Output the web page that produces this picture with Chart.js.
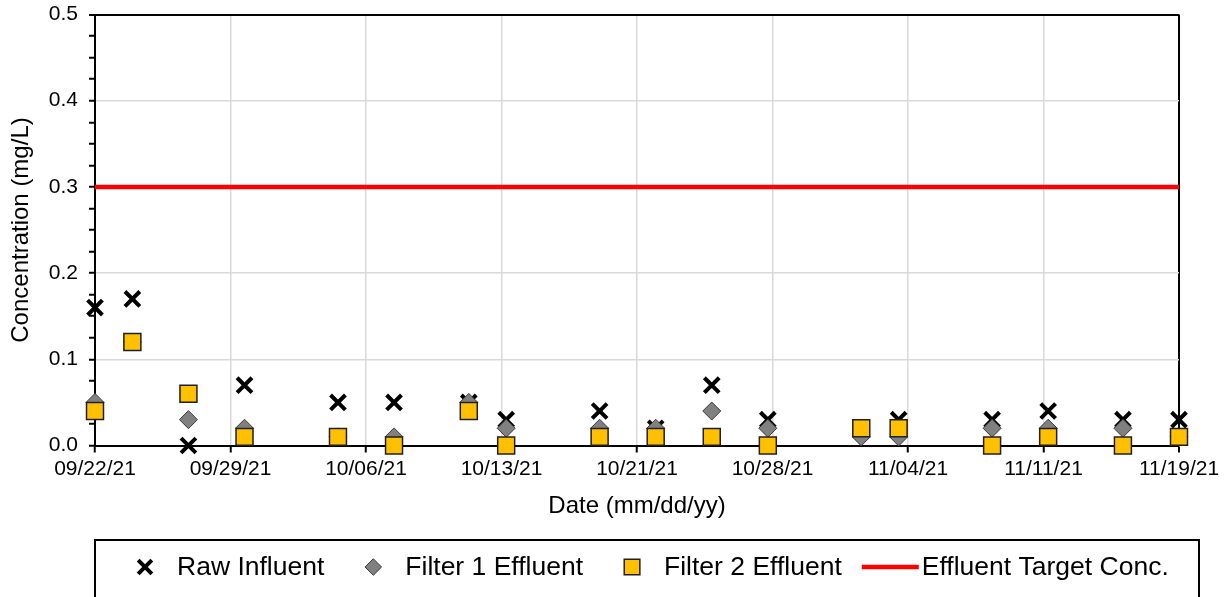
<!DOCTYPE html>
<html>
<head>
<meta charset="utf-8">
<script src="https://cdn.jsdelivr.net/npm/chart.js@4.4.1/dist/chart.umd.min.js"></script>
<style>
  html, body { margin: 0; padding: 0; background: #fff; }
  #wrap { width: 1228px; height: 597px; position: relative; }
</style>
</head>
<body>
<div id="wrap"><canvas id="c" width="1228" height="597"></canvas></div>
<script>
// Sampling dates (mm/dd/yy) and measured concentrations (mg/L)
const sampleDates = ['09/22/21', '09/24/21', '09/27/21', '09/30/21', '10/05/21', '10/08/21',
                     '10/12/21', '10/14/21', '10/19/21', '10/22/21', '10/25/21', '10/28/21',
                     '11/02/21', '11/04/21', '11/09/21', '11/12/21', '11/16/21', '11/19/21'];
const rawInfluent     = [0.16, 0.17, 0.00, 0.07, 0.05, 0.05, 0.05, 0.03, 0.04, 0.02, 0.07, 0.03, null, 0.03, 0.03, 0.04, 0.03, 0.03];
const filter1Effluent = [0.05, 0.12, 0.03, 0.02, 0.01, 0.01, 0.05, 0.02, 0.02, 0.02, 0.04, 0.02, 0.01, 0.01, 0.02, 0.02, 0.02, 0.01];
const filter2Effluent = [0.04, 0.12, 0.06, 0.01, 0.01, 0.00, 0.04, 0.00, 0.01, 0.01, 0.01, 0.00, 0.02, 0.02, 0.00, 0.01, 0.00, 0.01];
const targetConc = 0.3;

const seriesNames = ['Raw Influent', 'Filter 1 Effluent', 'Filter 2 Effluent', 'Effluent Target Conc.'];
const xTickLabels = ['09/22/21', '09/29/21', '10/06/21', '10/13/21', '10/21/21', '10/28/21', '11/04/21', '11/11/21', '11/19/21'];
const yTickLabels = ['0.0', '0.1', '0.2', '0.3', '0.4', '0.5'];
const xAxisTitle = 'Date (mm/dd/yy)';
const yAxisTitle = 'Concentration (mg/L)';

// Convert mm/dd/yy to a day count from the first sampling date
function dayNumber(s) {
  const [m, d, y] = s.split('/').map(Number);
  return Date.UTC(2000 + y, m - 1, d) / 86400000;
}
const day0 = dayNumber(xTickLabels[0]);
const dayEnd = dayNumber(xTickLabels[xTickLabels.length - 1]) - day0;
const days = sampleDates.map(s => dayNumber(s) - day0);
const toPoints = vals => days.map((d, i) => ({ x: d, y: vals[i] })).filter(p => p.y !== null);

const FONT = '"Liberation Sans", Arial, Helvetica, sans-serif';
Chart.defaults.font.family = FONT;
Chart.defaults.color = '#000';

const isMajorY = v => Math.abs(v * 10 - Math.round(v * 10)) < 1e-6;

// Legend drawn inside a framed box below the plot
const boxedLegend = {
  id: 'boxedLegend',
  afterDraw(chart) {
    const ctx = chart.ctx;
    const top = 540, left = 95, right = 1199, cy = 567;
    ctx.save();
    ctx.lineWidth = 2;
    ctx.strokeStyle = '#000';
    ctx.strokeRect(left, top, right - left, 80);
    ctx.font = '26.5px ' + FONT;
    ctx.textBaseline = 'middle';
    ctx.textAlign = 'left';
    let x = 145;
    chart.data.datasets.forEach((ds, i) => {
      const label = seriesNames[i];
      if (ds.showLine) {
        const x0 = x - 49 + 20;
        ctx.strokeStyle = ds.borderColor;
        ctx.lineWidth = ds.borderWidth;
        ctx.beginPath();
        ctx.moveTo(x0, cy);
        ctx.lineTo(x0 + 57, cy);
        ctx.stroke();
        ctx.fillStyle = '#000';
        ctx.fillText(label, x0 + 60, cy + 1);
        return;
      }
      ctx.fillStyle = ds.pointBackgroundColor;
      ctx.strokeStyle = ds.pointBorderColor;
      ctx.lineWidth = ds.pointBorderWidth;
      Chart.helpers.drawPoint(ctx, {
        pointStyle: ds.pointStyle, radius: ds.pointRadius * 0.92,
        rotation: 0, borderWidth: ds.pointBorderWidth
      }, x, cy);
      ctx.fillStyle = '#000';
      const tx = x + 32;
      ctx.fillText(label, tx, cy + 1);
      x = tx + ctx.measureText(label).width + 49;
    });
    ctx.restore();
  }
};

new Chart(document.getElementById('c'), {
  type: 'scatter',
  data: {
    datasets: [
      {
        label: seriesNames[0], data: toPoints(rawInfluent), order: 2, clip: false,
        pointStyle: 'crossRot', pointRadius: 10.5, pointBorderWidth: 4,
        pointBackgroundColor: '#000', pointBorderColor: '#000',
        pointHoverRadius: 10.5
      },
      {
        label: seriesNames[1], data: toPoints(filter1Effluent), order: 1, clip: false,
        pointStyle: 'rectRot', pointRadius: 9, pointBorderWidth: 1,
        pointBackgroundColor: '#808080', pointBorderColor: '#3a3a3a',
        pointHoverRadius: 9
      },
      {
        label: seriesNames[2], data: toPoints(filter2Effluent), order: 0, clip: false,
        pointStyle: 'rect', pointRadius: 12, pointBorderWidth: 1.5,
        pointBackgroundColor: '#ffc000', pointBorderColor: '#1f1f1f',
        pointHoverRadius: 12
      },
      {
        label: seriesNames[3], type: 'line', order: 3, showLine: true,
        data: [{ x: 0, y: targetConc }, { x: dayEnd, y: targetConc }],
        borderColor: '#ff0000', borderWidth: 4.5, pointRadius: 0, fill: false, clip: false
      }
    ]
  },
  options: {
    responsive: false,
    animation: false,
    devicePixelRatio: 1,
    layout: { padding: { top: 14, right: 49, bottom: 76, left: 0 } },
    plugins: { legend: { display: false }, tooltip: { enabled: false } },
    scales: {
      x: {
        type: 'linear', min: 0, max: dayEnd,
        afterBuildTicks(scale) {
          const n = xTickLabels.length - 1;
          scale.ticks = xTickLabels.map((_, i) => ({ value: dayEnd * i / n }));
        },
        afterFit(scale) { scale.height = 75.5; },
        ticks: {
          autoSkip: false, maxRotation: 0, padding: 4,
          font: { size: 21 }, color: '#000',
          callback: (v, i) => xTickLabels[i]
        },
        grid: {
          color: ctx => (ctx.tick && Math.abs(ctx.tick.value - dayEnd) < 1e-6) ? '#000' : '#d9d9d9',
          lineWidth: ctx => (ctx.tick && Math.abs(ctx.tick.value - dayEnd) < 1e-6) ? 2 : 1.5,
          tickColor: '#000', tickWidth: 2, tickLength: 7
        },
        border: { color: '#000', width: 2 },
        title: { display: true, text: xAxisTitle, font: { size: 24 }, color: '#000', padding: { top: 0, bottom: 0 } }
      },
      y: {
        type: 'linear', min: 0, max: 0.5,
        afterBuildTicks(scale) {
          const t = [];
          for (let k = 0; k <= 20; k++) t.push({ value: k * 0.025 });
          scale.ticks = t;
        },
        afterFit(scale) {
          scale.width = 95;
          // the end labels fit inside the outer padding
          scale.paddingTop = 0;
          scale.paddingBottom = 0;
        },
        ticks: {
          autoSkip: false, padding: 11,
          font: { size: 21 }, color: '#000',
          callback: v => isMajorY(v) ? yTickLabels[Math.round(v * 10)] : ''
        },
        grid: {
          color: ctx => {
            const v = ctx.tick ? ctx.tick.value : 0;
            if (!isMajorY(v)) return 'rgba(0,0,0,0)';
            return Math.abs(v - 0.5) < 1e-6 ? '#000' : '#d9d9d9';
          },
          lineWidth: ctx => {
            const v = ctx.tick ? ctx.tick.value : 0;
            return Math.abs(v - 0.5) < 1e-6 ? 2 : 1.5;
          },
          tickColor: '#000', tickWidth: 2, tickLength: 6
        },
        border: { color: '#000', width: 2 },
        title: { display: true, text: yAxisTitle, font: { size: 24 }, color: '#000', padding: { top: 6.6, bottom: 0 } }
      }
    }
  },
  plugins: [boxedLegend]
});
</script>
</body>
</html>
